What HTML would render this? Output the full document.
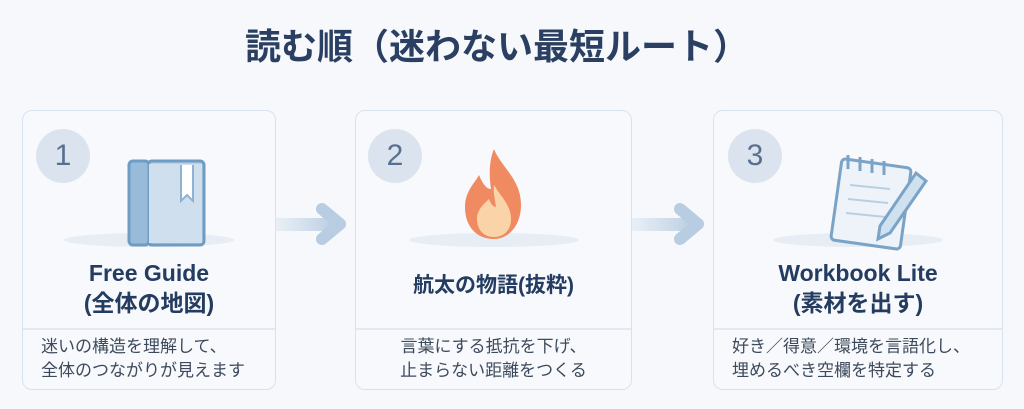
<!DOCTYPE html>
<html><head><meta charset="utf-8"><style>
body{margin:0;width:1024px;height:409px;background:#f6f8fb;font-family:"Liberation Sans","Noto Sans CJK JP",sans-serif;position:relative;overflow:hidden}
.t{position:absolute;left:0;width:994px;top:18px;text-align:center;font-size:36px;font-weight:bold;color:#2a3f62}
.c{position:absolute;top:110px;height:280px;border:1.5px solid #d8e2ee;border-radius:10px;background:#f8f9fc;box-sizing:border-box}
.n{position:absolute;left:13px;top:18px;width:54px;height:54px;border-radius:50%;background:#dbe4ee;color:#587090;font-size:30px;text-align:center;line-height:54px}
.h{position:absolute;left:0;right:0;top:147px;text-align:center;color:#233c60;font-size:23px;font-weight:bold;line-height:30px}
.d{position:absolute;left:0;right:0;top:217px;border-top:2px solid #e2e9f2;padding:5px 18px;font-size:17px;color:#3d4a5c;line-height:24px}
.sh{position:absolute;top:122px;left:50%;width:170px;margin-left:-85px;height:14px;border-radius:50%;background:#e6edf5}
svg.i{position:absolute}
</style></head><body>
<div class="t">読む順（迷わない最短ルート）</div>
<svg width="1024" height="409" style="position:absolute;left:0;top:0">
<defs><linearGradient id="g" gradientUnits="userSpaceOnUse" x1="256" y1="0" x2="336" y2="0"><stop offset="0" stop-color="#c5d6e6" stop-opacity="0"/><stop offset="1" stop-color="#b8cde2"/></linearGradient>
<linearGradient id="g2" gradientUnits="userSpaceOnUse" x1="612" y1="0" x2="694" y2="0"><stop offset="0" stop-color="#c5d6e6" stop-opacity="0"/><stop offset="1" stop-color="#b8cde2"/></linearGradient></defs>
<rect x="256" y="218" width="82" height="13" rx="6" fill="url(#g)"/>
<path d="M322 209L340 224L322 239" fill="none" stroke="#b8cde2" stroke-width="12" stroke-linecap="round" stroke-linejoin="round"/>
<rect x="612" y="218" width="84" height="13" rx="6" fill="url(#g2)"/>
<path d="M680 209L698 224L680 239" fill="none" stroke="#b8cde2" stroke-width="12" stroke-linecap="round" stroke-linejoin="round"/>
</svg>
<div class="c" style="left:22px;width:254px">
<div class="n">1</div><div class="sh"></div>
<svg class="i" style="left:98px;top:40px" width="95" height="100"><rect x="27" y="10" width="56" height="84" rx="4" fill="#b6d0e6" stroke="#6f9cc3" stroke-width="3"/><rect x="8" y="10" width="20" height="84" rx="4" fill="#98bbda" stroke="#6f9cc3" stroke-width="3"/><rect x="28" y="13" width="53" height="79" fill="#cfdfee"/><path d="M60 14V50L66 44L72 50V14" fill="#fff" stroke="#8fb2d2" stroke-width="2"/></svg>
<div class="h">Free Guide<br>(全体の地図)</div>
<div class="d">迷いの構造を理解して、<br>全体のつながりが見えます</div></div>
<div class="c" style="left:355px;width:277px">
<div class="sh"></div>
<div class="n" style="left:12px">2</div>
<svg class="i" style="left:103px;top:34px" width="70" height="100"><path d="M35 4C42 22 62 34 62 60C62 80 50 94 35 94C18 94 6 82 6 62C6 46 16 38 20 30C24 40 28 44 32 44C30 30 30 16 35 4Z" fill="#f08a60"/><path d="M35 40C42 52 52 60 52 74C52 86 44 92 35 92C24 92 18 84 18 74C18 64 26 58 30 54C32 60 35 62 37 62C36 54 34 48 35 40Z" fill="#fbd3a8"/></svg>
<div class="h" style="top:160px;font-size:21px">航太の物語(抜粋)</div>
<div class="d" style="text-align:center">言葉にする抵抗を下げ、<br>止まらない距離をつくる</div></div>
<div class="c" style="left:713px;width:290px">
<div class="n" style="left:14px">3</div><div class="sh"></div>
<svg class="i" style="left:100px;top:40px" width="125" height="100"><rect x="22" y="12" width="70" height="82" rx="4" transform="rotate(8 57 53)" fill="#eef3f9" stroke="#7aa3c8" stroke-width="3"/><g stroke="#7aa3c8" stroke-width="3" fill="none"><path d="M34 4v14M46 6v14M58 8v14M70 10v14"/></g><g stroke="#b8cfe3" stroke-width="2"><path d="M36 34l40 4M34 48l40 4M32 62l40 4"/></g><path d="M102 22l10 8-36 52-12 6 2-13z" fill="#cfe0ef" stroke="#7aa3c8" stroke-width="3"/></svg>
<div class="h">Workbook Lite<br>(素材を出す)</div>
<div class="d">好き／得意／環境を言語化し、<br>埋めるべき空欄を特定する</div></div>
</body></html>
